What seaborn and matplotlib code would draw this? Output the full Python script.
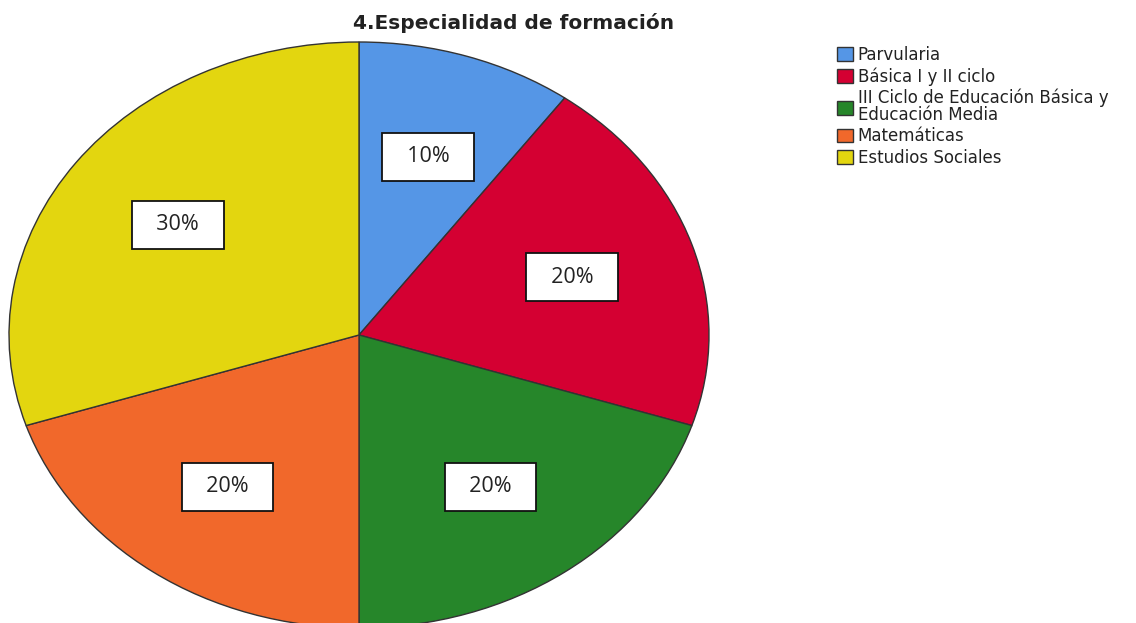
import numpy as np
import seaborn as sns
import matplotlib.pyplot as plt

# chart data
categories = ['Parvularia', 'Básica I y II ciclo',
              'III Ciclo de Educación Básica y\nEducación Media',
              'Matemáticas', 'Estudios Sociales']
shares = [10, 20, 20, 20, 30]
colors = ['#5596E6', '#D40032', '#26862A', '#F1682B', '#E3D60F']
title = '4.Especialidad de formación'

sns.set_style("white")
plt.rcParams['font.family'] = ['DejaVu Sans']

fig = plt.figure(figsize=(11.36, 6.23), dpi=100)
# stretched (elliptical) pie like the SPSS export
ax = fig.add_axes([9 / 1136, -5 / 623, 700 / 1136, 586 / 623])

wedges, texts, autotexts = ax.pie(
    shares, colors=colors, startangle=90, counterclock=False,
    autopct=lambda p: f'  {p:.0f}%  ', pctdistance=0.64,
    wedgeprops=dict(edgecolor='#333333', linewidth=1.0))
for t in autotexts:
    t.set_fontfamily('Open Sans')
    t.set_fontsize(15.5)
    t.set_color('#222222')
    t.set_bbox(dict(boxstyle='square,pad=0.62', facecolor='white',
                    edgecolor='#111111', linewidth=1.3))
ax.set_aspect('auto')
ax.set_xlim(-1, 1)
ax.set_ylim(-1, 1)
ax.axis('off')

fig.text(514 / 1136, 1 - 23 / 623, title, ha='center', va='center',
         fontsize=14.5, fontweight='bold', color='#222222')

leg = fig.legend(wedges, categories, loc='upper left',
                 bbox_to_anchor=(830 / 1136, 1 - 39 / 623), frameon=False,
                 fontsize=12, handlelength=0.95, handleheight=0.9,
                 handletextpad=0.3, labelspacing=0.2, borderaxespad=0)
for h in leg.legend_handles:
    h.set_edgecolor('#333333')
    h.set_linewidth(1.0)
for t in leg.get_texts():
    t.set_linespacing(0.9)
    t.set_color('#222222')

plt.savefig('out.png', dpi=100)
plt.close()
